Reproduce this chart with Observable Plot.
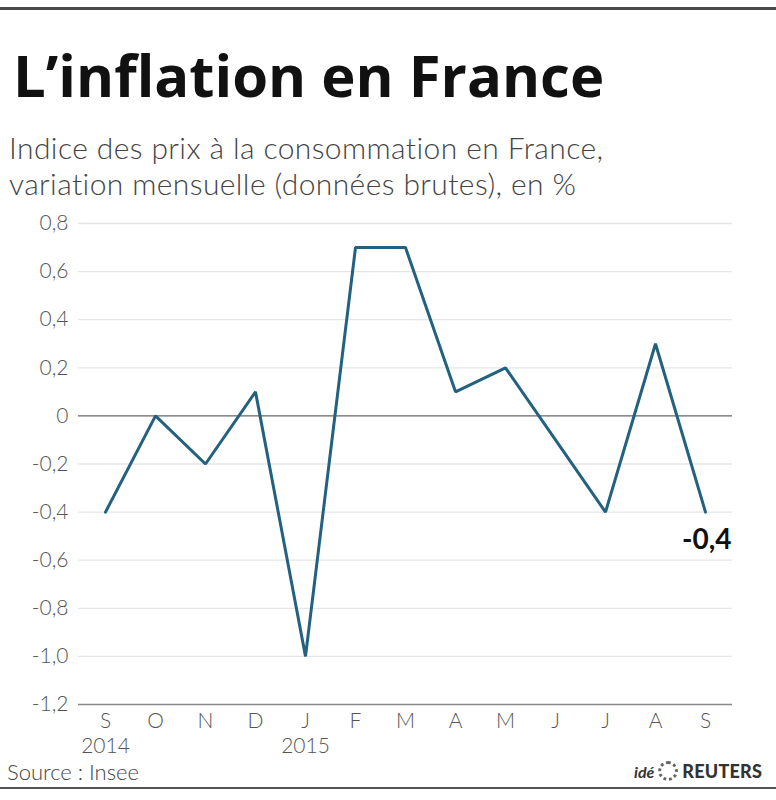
<!DOCTYPE html>
<html>
<head>
<meta charset="utf-8">
<script src="https://cdn.jsdelivr.net/npm/d3@7"></script>
<script src="https://cdn.jsdelivr.net/npm/@observablehq/plot@0.6"></script>
<style>
  html, body { margin: 0; padding: 0; background: #fff; }
  #wrap { position: relative; width: 776px; height: 800px; overflow: hidden; font-family: Lato, "Open Sans", sans-serif; }
  #topline { position: absolute; left: 0; top: 7px; width: 776px; height: 3px; background: #4a4a4a; }
  #botline { position: absolute; left: 0; top: 787px; width: 776px; height: 2px; background: #555; }
  #title { position: absolute; left: 13px; top: 37px; font-family: "Open Sans", sans-serif; font-weight: 700; font-size: 58px; line-height: 76px; color: #111; letter-spacing: 0px; white-space: nowrap; }
  .sub { position: absolute; left: 9px; font-family: Lato, sans-serif; font-weight: 300; font-size: 30px; line-height: 36px; height: 36px; color: #444; white-space: nowrap; letter-spacing: 0.4px; }
  #sub1 { top: 129px; }
  #sub2 { top: 165px; }
  #chart { position: absolute; left: 0; top: 200px; }
  #source { position: absolute; left: 7px; top: 758px; font-weight: 300; font-size: 22px; color: #444; white-space: nowrap; }
  #logo { position: absolute; right: 14px; top: 760px; font-size: 18px; color: #333; white-space: nowrap; display: flex; align-items: center; gap: 4px; }
  #logo .ide { font-style: italic; font-weight: 700; font-size: 16px; }
  #logo .dot { display: inline-block; width: 20px; height: 20px; border-radius: 50%; border: 3px dotted #666; box-sizing: border-box; }
  #logo .reu { font-weight: 900; letter-spacing: 0.2px; }
</style>
</head>
<body>
<div id="wrap">
  <div id="topline"></div>
  <div id="title">L’inflation en France</div>
  <div class="sub" id="sub1">Indice des prix à la consommation en France,</div>
  <div class="sub" id="sub2">variation mensuelle (données brutes), en %</div>
  <div id="chart"></div>
  <div id="source">Source : Insee</div>
  <div id="logo"><span class="ide">idé</span><span class="dot"></span><span class="reu">REUTERS</span></div>
  <div id="botline"></div>
</div>
<script>
const months = ["S", "O", "N", "D", "J", "F", "M", "A", "M", "J", "J", "A", "S"];
const years = ["2014", "", "", "", "2015", "", "", "", "", "", "", "", ""];
const values = [-0.4, 0, -0.2, 0.1, -1.0, 0.7, 0.7, 0.1, 0.2, -0.1, -0.4, 0.3, -0.4];
const yTicks = [0.8, 0.6, 0.4, 0.2, 0, -0.2, -0.4, -0.6, -0.8, -1.0, -1.2];
const lastLabel = "-0,4";

const data = values.map((v, i) => ({i, v}));
const fmt = d => d === 0 ? "0" : d.toFixed(1).replace(".", ",");

const plot = Plot.plot({
  width: 776,
  height: 560,
  marginLeft: 78,
  marginRight: 44,
  marginTop: 23,
  marginBottom: 56,
  style: {fontFamily: "Lato, 'Open Sans', sans-serif", background: "transparent"},
  x: {type: "point", domain: d3.range(months.length), padding: 0.5},
  y: {domain: [-1.2, 0.8]},
  marks: [
    Plot.ruleY(yTicks.filter(d => d !== 0 && d !== -1.2), {stroke: "#e6e6e6", strokeWidth: 1.3}),
    Plot.ruleY([0], {stroke: "#666", strokeWidth: 1.3}),
    Plot.ruleY([-1.2], {stroke: "#888", strokeWidth: 1.3}),
    Plot.axisY({ticks: yTicks, tickFormat: fmt, tickSize: 0, tickPadding: 10, fontSize: 21, fill: "#555", label: null, fontWeight: 300}),
    Plot.axisX({tickFormat: i => months[i], tickSize: 0, tickPadding: 9, fontSize: 21, fill: "#555", label: null, fontWeight: 300}),
    Plot.axisX({ticks: [0, 4], tickFormat: i => years[i], tickSize: 0, tickPadding: 34, fontSize: 21, fill: "#555", label: null, fontWeight: 300}),
    Plot.line(data, {x: "i", y: "v", stroke: "#22617f", strokeWidth: 3, strokeLinejoin: "miter"}),
    Plot.text(data.slice(-1), {x: "i", y: "v", text: () => lastLabel, textAnchor: "end", dx: 26, dy: 28, fontSize: 28, fontWeight: 700, fill: "#111"})
  ]
});
document.getElementById("chart").appendChild(plot);
</script>
</body>
</html>
